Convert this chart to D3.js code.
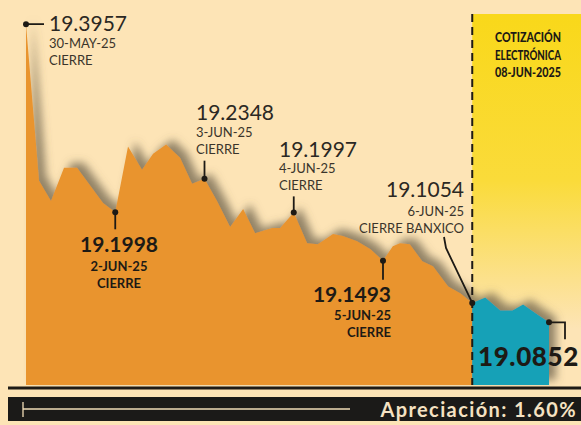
<!DOCTYPE html>
<html>
<head>
<meta charset="utf-8">
<script src="https://cdn.jsdelivr.net/npm/d3@7"></script>
<style>
  html, body { margin: 0; padding: 0; background: #fde4b6; }
  svg { display: block; font-family: Lato, "Noto Sans", sans-serif; }
</style>
</head>
<body>
<div id="chart"></div>
<script>
// Sessions are trading days after the 30-MAY-25 close (fractions = intraday)
var cierreSessions = [0, 0.146, 0.28, 0.426, 0.572, 0.863, 1, 1.143, 1.30, 1.424, 1.57, 1.726, 1.861, 2,
    2.14, 2.287, 2.433, 2.567, 2.758, 2.848, 3, 3.15, 3.27, 3.44, 3.55, 3.71, 3.86, 4,
    4.11, 4.19, 4.30, 4.44, 4.56, 4.73, 4.87, 5];
var cierreValues = [19.3957, 19.2326, 19.2116, 19.2462, 19.2462, 19.2095, 19.1998, 19.2682, 19.2441, 19.2608, 19.2703, 19.2567, 19.2294, 19.2348,
    19.2116, 19.1844, 19.2032, 19.1781, 19.1834, 19.1834, 19.1997, 19.1676, 19.1666, 19.1771, 19.1750, 19.1697, 19.1614, 19.1493,
    19.1645, 19.1676, 19.1666, 19.1488, 19.1436, 19.1226, 19.1153, 19.1054];
var electronicaSessions = [5, 5.146, 5.314, 5.45, 5.57, 5.73, 5.86];
var electronicaValues = [19.1054, 19.1111, 19.0975, 19.0975, 19.1038, 19.0933, 19.0852];

// Labelled closes: value, date, note
var labelValues = ["19.3957", "19.1998", "19.2348", "19.1997", "19.1493", "19.1054", "19.0852"];
var labelDates = ["30-MAY-25", "2-JUN-25", "3-JUN-25", "4-JUN-25", "5-JUN-25", "6-JUN-25", ""];
var labelNotes = ["CIERRE", "CIERRE", "CIERRE", "CIERRE", "CIERRE", "CIERRE BANXICO", ""];
var labelSessions = [0, 1, 2, 3, 4, 5, 5.86];

var panelLines = ["COTIZACIÓN", "ELECTRÓNICA", "08-JUN-2025"];
var footerText = "Apreciación: 1.60%";

var W = 581, H = 425;
var cream = "#fde4b6", orange = "#e9942f", blue = "#17a1b7", ink = "#1d1a15";

var svg = d3.select("#chart").append("svg").attr("width", W).attr("height", H);
var defs = svg.append("defs");

var grad = defs.append("linearGradient").attr("id", "yel").attr("x1", 0).attr("y1", 0).attr("x2", 0).attr("y2", 1);
grad.append("stop").attr("offset", "0%").attr("stop-color", "#f9d81a");
grad.append("stop").attr("offset", "45%").attr("stop-color", "#fadb3a");
grad.append("stop").attr("offset", "85%").attr("stop-color", cream);

var f = defs.append("filter").attr("id", "shadow").attr("x", "-10%").attr("y", "-10%").attr("width", "130%").attr("height", "130%");
f.append("feGaussianBlur").attr("in", "SourceAlpha").attr("stdDeviation", 4).attr("result", "b");
f.append("feOffset").attr("in", "b").attr("dx", 7).attr("dy", -5).attr("result", "o");
f.append("feFlood").attr("flood-color", "#655a45").attr("flood-opacity", 0.7).attr("result", "c");
f.append("feComposite").attr("in", "c").attr("in2", "o").attr("operator", "in").attr("result", "s");
var m = f.append("feMerge");
m.append("feMergeNode").attr("in", "s");
m.append("feMergeNode").attr("in", "SourceGraphic");

// Scales
var x = d3.scaleLinear().domain([0, 5.86]).range([26, 549]);
var y = d3.scaleLinear().domain([19.02, 19.40]).range([385, 20]);

// Yellow panel for electronic quote
svg.append("rect").attr("x", x(5)).attr("y", 14).attr("width", W - x(5)).attr("height", 371)
    .attr("fill", "url(#yel)");

var area = d3.area()
    .x(function (d) { return x(d[0]); })
    .y0(y(19.02))
    .y1(function (d) { return y(d[1]); });

var cierre = d3.zip(cierreSessions, cierreValues);
var electronica = d3.zip(electronicaSessions, electronicaValues);

var g = svg.append("g").attr("filter", "url(#shadow)");
g.append("path").datum(cierre).attr("d", area).attr("fill", orange);
g.append("path").datum(electronica).attr("d", area).attr("fill", blue);

// Dashed divider
svg.append("line").attr("x1", x(5)).attr("x2", x(5)).attr("y1", 14).attr("y2", 385)
    .attr("stroke", ink).attr("stroke-width", 2).attr("stroke-dasharray", "8,5");

// Baseline and footer bar
svg.append("line").attr("x1", 8).attr("x2", W).attr("y1", 388).attr("y2", 388)
    .attr("stroke", ink).attr("stroke-width", 3);
svg.append("rect").attr("x", 8).attr("y", 397).attr("width", W - 8).attr("height", 24).attr("fill", "#1b1a18");
svg.append("line").attr("x1", 23).attr("x2", 350).attr("y1", 409).attr("y2", 409)
    .attr("stroke", "#f1dcb6").attr("stroke-width", 1.3);
svg.append("line").attr("x1", 23).attr("x2", 23).attr("y1", 402).attr("y2", 417)
    .attr("stroke", "#f1dcb6").attr("stroke-width", 1.3);
svg.append("text").attr("x", 577).attr("y", 417).attr("text-anchor", "end")
    .attr("font-size", 20).attr("font-weight", 700).attr("letter-spacing", 1.4)
    .attr("fill", "#f5e2c2").text(footerText);

// Panel heading
panelLines.forEach(function (t, i) {
    svg.append("text").attr("x", 528).attr("y", 42 + i * 17.5).attr("text-anchor", "middle")
        .attr("font-size", 12.5).attr("font-weight", 900).attr("fill", ink)
        .attr("textLength", 66).attr("lengthAdjust", "spacingAndGlyphs").text(t);
});

// Annotations
function dot(i) {
    svg.append("circle").attr("cx", x(labelSessions[i])).attr("cy", y(+labelValues[i])).attr("r", 3).attr("fill", ink);
}
function path(pts) {
    svg.append("path").attr("d", d3.line()(pts)).attr("fill", "none").attr("stroke", ink).attr("stroke-width", 1.8);
}
function block(i, tx, ty, anchor, bold, gap) {
    svg.append("text").attr("x", tx).attr("y", ty).attr("text-anchor", anchor)
        .attr("font-size", 21).attr("font-weight", bold ? 700 : 400).attr("fill", bold ? ink : "#2b2823")
        .text(labelValues[i]);
    [labelDates[i], labelNotes[i]].forEach(function (t, k) {
        svg.append("text").attr("x", tx).attr("y", ty + gap + k * 16.5).attr("text-anchor", anchor)
            .attr("font-size", 13).attr("font-weight", bold ? 700 : 400).attr("fill", bold ? ink : "#3a342b")
            .text(t);
    });
}

var px, py;
// 30-MAY
px = x(0); py = y(19.3957);
path([[px, py], [px + 18, py]]); dot(0);
block(0, 49, 31, "start", false, 17);
// 2-JUN
px = x(1); py = y(19.1998);
path([[px, py], [px, py + 17]]); dot(1);
block(1, 119, 252, "middle", true, 19);
// 3-JUN
px = x(2); py = y(19.2348);
path([[px, py], [px, py - 18]]); dot(2);
block(2, 196, 120, "start", false, 17);
// 4-JUN
px = x(3); py = y(19.1997);
path([[px, py], [px, py - 16]]); dot(3);
block(3, 279, 157, "start", false, 16);
// 5-JUN
px = x(4); py = y(19.1493);
path([[px, py], [px, py + 19]]); dot(4);
block(4, 391, 302, "end", true, 18);
// 6-JUN
px = x(5); py = y(19.1054);
path([[444, 237], [446, 248], [px, py]]); dot(5);
block(5, 464, 197, "end", false, 19);
// Electronic quote
px = x(5.86); py = y(19.0852);
path([[px, py], [px + 16, py], [px + 16, py + 17]]); dot(6);
svg.append("text").attr("x", 478).attr("y", 366).attr("font-size", 26).attr("font-weight", 900)
    .attr("letter-spacing", 0.6).attr("fill", ink).text(labelValues[6]);
</script>
</body>
</html>
